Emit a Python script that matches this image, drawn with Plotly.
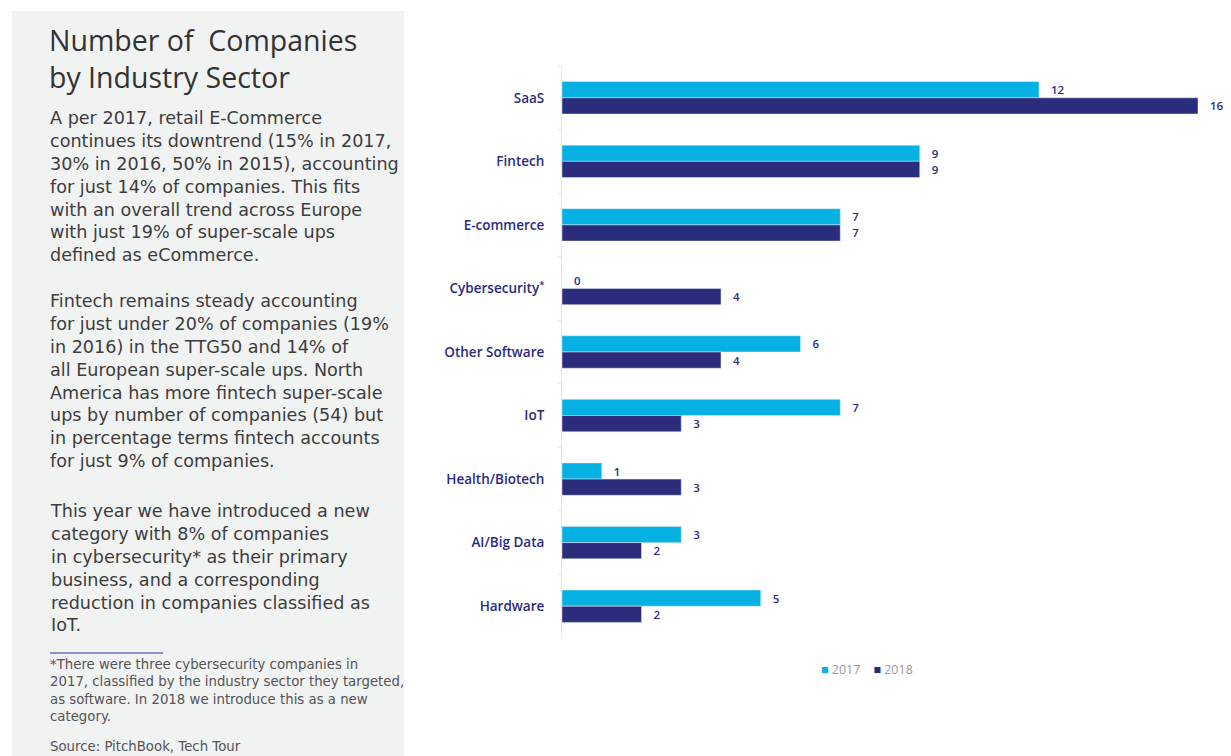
import plotly.graph_objects as go

categories = ["SaaS", "Fintech", "E-commerce", "Cybersecurity<sup>*</sup>", "Other Software",
              "IoT", "Health/Biotech", "AI/Big Data", "Hardware"]
values_2017 = [12, 9, 7, 0, 6, 7, 1, 3, 5]
values_2018 = [16, 9, 7, 4, 4, 3, 3, 2, 2]
series_names = ["2017", "2018"]

title_lines = ["Number of  Companies", "by Industry Sector"]
para1_lines = ["A per 2017, retail E-Commerce",
               "continues its downtrend (15% in 2017,",
               "30% in 2016, 50% in 2015), accounting",
               "for just 14% of companies. This fits",
               "with an overall trend across Europe",
               "with just 19% of super-scale ups",
               "defined as eCommerce."]
para2_lines = ["Fintech remains steady accounting",
               "for just under 20% of companies (19%",
               "in 2016) in the TTG50 and 14% of",
               "all European super-scale ups. North",
               "America has more fintech super-scale",
               "ups by number of companies (54) but",
               "in percentage terms fintech accounts",
               "for just 9% of companies."]
para3_lines = ["This year we have introduced a new",
               "category with 8% of companies",
               "in cybersecurity* as their primary",
               "business, and a corresponding",
               "reduction in companies classified as",
               "IoT."]
foot_lines = ["*There were three cybersecurity companies in",
              "2017, classified by the industry sector they targeted,",
              "as software. In 2018 we introduce this as a new",
              "category."]
source_text = "Source: PitchBook, Tech Tour"

CYAN = "#04B1E2"
NAVY = "#2B2C7C"
TXT = "#3d3d3d"
FONT = "Open Sans"
BODY_FONT = "DejaVu Sans"

W, H = 1231, 756
L, R, T, B = 562, 33, 66, 118
PW, PH = W - L - R, H - T - B

def px(x):
    return (x - L) / PW

def py(y):
    return (H - B - y) / PH

fig = go.Figure()
for name, vals, col in [(series_names[0], values_2017, CYAN), (series_names[1], values_2018, NAVY)]:
    fig.add_trace(go.Bar(
        y=categories, x=vals, name=name, orientation="h",
        marker=dict(color=col), texttemplate="   %{x}",
        textposition="outside", cliponaxis=False, constraintext="none",
        textfont=dict(color=NAVY, size=11.5, family=FONT, weight=600),
        showlegend=False,
    ))

def add_block(lines, x, ytop, size, color, family):
    fig.add_annotation(text="<br>".join(lines), x=px(x), y=py(ytop), xref="paper", yref="paper",
                       xanchor="left", yanchor="top", align="left", showarrow=False,
                       borderpad=0,
                       font=dict(family=family, size=size, color=color))

add_block(title_lines, 48, 20, 28.5, "#333333", FONT)
add_block(para1_lines, 49, 107, 17.6, TXT, BODY_FONT)
add_block(para2_lines, 49, 290, 17.6, TXT, BODY_FONT)
add_block(para3_lines, 49, 500, 17.6, TXT, BODY_FONT)
add_block(foot_lines, 49, 656, 13.3, "#555555", BODY_FONT)
add_block([source_text], 49, 738, 13.3, "#555555", BODY_FONT)

legend_text = (f"<span style='color:{CYAN}'>■</span> {series_names[0]}    "
               f"<span style='color:{NAVY}'>■</span> {series_names[1]}")
fig.add_annotation(text=legend_text, x=px(819), y=py(669), xref="paper", yref="paper",
                   xanchor="left", yanchor="middle", showarrow=False,
                   font=dict(family=FONT, size=12.5, color="#9a9a9a"))

fig.add_shape(type="rect", xref="paper", yref="paper", x0=px(12), x1=px(404),
              y0=py(760), y1=py(11), fillcolor="#F1F2F2", line=dict(width=0), layer="below")
fig.add_shape(type="line", xref="paper", yref="paper", x0=px(50), x1=px(163),
              y0=py(653), y1=py(653), line=dict(color="#8C90C8", width=2))

fig.update_layout(
    width=W, height=H,
    margin=dict(l=L, r=R, t=T, b=B),
    paper_bgcolor="white", plot_bgcolor="white",
    barmode="group", bargap=0.49, bargroupgap=0,
    showlegend=False,
    xaxis=dict(range=[0, 16], visible=False, fixedrange=True),
    yaxis=dict(autorange="reversed", showline=True, linecolor="#E6E6E6", linewidth=1,
               ticks="outside", tickson="boundaries", ticklen=3, tickcolor="#E6E6E6",
               tickfont=dict(family=FONT, size=13.5, color=NAVY, weight=600),
               ticklabelstandoff=14, showgrid=False),
)

fig.write_html("out.html")
